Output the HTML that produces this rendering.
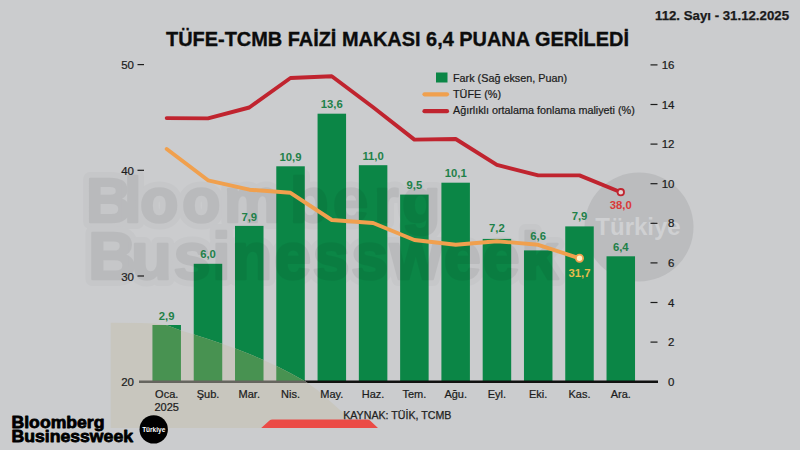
<!DOCTYPE html><html><head><meta charset="utf-8"><title>TÜFE-TCMB</title><style>
html,body{margin:0;padding:0;background:#cbccce;}body{width:800px;height:450px;overflow:hidden;}svg{display:block}text{font-family:"Liberation Sans",sans-serif;}.n text{stroke:#1c1c1c;stroke-width:0.22px}
</style></head><body>
<svg width="800" height="450" viewBox="0 0 800 450">
<rect width="800" height="450" fill="#cbccce"/>
<g font-weight="bold">
<g fill="#c6c7c9" stroke="#c6c7c9" stroke-width="14" stroke-linejoin="round"><text x="86 124 140 182 224 290 333 374 402" y="222" font-size="63">Bloomberg</text><text x="88 131 173.5 212.1 231.4 273.9 312.5 351.1 389.7 443.8 482.4 521" y="279" font-size="67">Businessweek</text></g>
</g>
<circle cx="639" cy="227" r="54.5" fill="#bbbcbe"/>
<text x="638" y="235" text-anchor="middle" font-size="24" font-weight="bold" fill="#cfd0d2">Türkiye</text>
<rect x="152.45" y="325.0" width="28.5" height="56.7" fill="#0b8646"/>
<rect x="193.73" y="263.8" width="28.5" height="117.9" fill="#0b8646"/>
<rect x="235.01" y="225.9" width="28.5" height="155.8" fill="#0b8646"/>
<rect x="276.29" y="166.3" width="28.5" height="215.4" fill="#0b8646"/>
<rect x="317.57" y="113.7" width="28.5" height="268.0" fill="#0b8646"/>
<rect x="358.85" y="165.2" width="28.5" height="216.5" fill="#0b8646"/>
<rect x="400.13" y="194.6" width="28.5" height="187.1" fill="#0b8646"/>
<rect x="441.41" y="182.7" width="28.5" height="199.0" fill="#0b8646"/>
<rect x="482.69" y="238.9" width="28.5" height="142.8" fill="#0b8646"/>
<rect x="523.97" y="250.4" width="28.5" height="131.3" fill="#0b8646"/>
<rect x="565.25" y="226.4" width="28.5" height="155.3" fill="#0b8646"/>
<rect x="606.53" y="256.3" width="28.5" height="125.4" fill="#0b8646"/>
<g font-weight="bold" opacity="0.058" fill="#000" stroke="#000" stroke-width="2.6" stroke-linejoin="round"><text x="86 124 140 182 224 290 333 374 402" y="222" font-size="63">Bloomberg</text><text x="88 131 173.5 212.1 231.4 273.9 312.5 351.1 389.7 443.8 482.4 521" y="279" font-size="67">Businessweek</text></g>
<line x1="139" y1="381.7" x2="658" y2="381.7" stroke="#111" stroke-width="2.4"/>
<clipPath id="ovc"><path d="M110.7,322.8 L140.0,322.9 L155.0,323.6 L167.0,325.3 L181.0,330.5 L194.0,334.5 L208.0,339.0 L222.0,343.8 L236.0,348.7 L250.0,354.2 L263.4,360.0 L277.0,366.3 L291.0,373.5 L305.5,381.6 L318.0,390.5 L331.0,402.0 L345.0,414.4 L352.0,420.5 L360.0,428.0 L110.7,428.0 Z"/></clipPath>
<path d="M110.7,322.8 L140.0,322.9 L155.0,323.6 L167.0,325.3 L181.0,330.5 L194.0,334.5 L208.0,339.0 L222.0,343.8 L236.0,348.7 L250.0,354.2 L263.4,360.0 L277.0,366.3 L291.0,373.5 L305.5,381.6 L318.0,390.5 L331.0,402.0 L345.0,414.4 L352.0,420.5 L360.0,428.0 L110.7,428.0 Z" fill="#c8c6be"/>
<g clip-path="url(#ovc)">
<rect x="152.45" y="325.0" width="28.5" height="56.7" fill="#489251"/>
<rect x="193.73" y="263.8" width="28.5" height="117.9" fill="#489251"/>
<rect x="235.01" y="225.9" width="28.5" height="155.8" fill="#489251"/>
<rect x="276.29" y="166.3" width="28.5" height="215.4" fill="#489251"/>
<line x1="139" y1="381.7" x2="320" y2="381.7" stroke="#66655f" stroke-width="2.4"/>
</g>
<path d="M261.2,428 L269.5,420.4 Q270.6,419.4 272.5,419.4 L367.5,419.4 Q369,419.4 370,420.4 L378,428 Z" fill="#eb4b46"/>
<text x="166.7" y="320.0" text-anchor="middle" font-size="11.3" font-weight="bold" fill="#1f8149">2,9</text>
<text x="208.0" y="258.0" text-anchor="middle" font-size="11.3" font-weight="bold" fill="#1f8149">6,0</text>
<text x="249.3" y="221.2" text-anchor="middle" font-size="11.3" font-weight="bold" fill="#1f8149">7,9</text>
<text x="290.5" y="160.9" text-anchor="middle" font-size="11.3" font-weight="bold" fill="#1f8149">10,9</text>
<text x="331.8" y="107.8" text-anchor="middle" font-size="11.3" font-weight="bold" fill="#1f8149">13,6</text>
<text x="373.1" y="160.3" text-anchor="middle" font-size="11.3" font-weight="bold" fill="#1f8149">11,0</text>
<text x="414.4" y="188.8" text-anchor="middle" font-size="11.3" font-weight="bold" fill="#1f8149">9,5</text>
<text x="455.7" y="176.8" text-anchor="middle" font-size="11.3" font-weight="bold" fill="#1f8149">10,1</text>
<text x="496.9" y="231.6" text-anchor="middle" font-size="11.3" font-weight="bold" fill="#1f8149">7,2</text>
<text x="538.2" y="240.1" text-anchor="middle" font-size="11.3" font-weight="bold" fill="#1f8149">6,6</text>
<text x="579.5" y="220.1" text-anchor="middle" font-size="11.3" font-weight="bold" fill="#1f8149">7,9</text>
<text x="620.8" y="250.6" text-anchor="middle" font-size="11.3" font-weight="bold" fill="#1f8149">6,4</text>
<g class="n">
<text x="166.7" y="398" text-anchor="middle" font-size="11" fill="#1c1c1c">Oca.</text>
<text x="208.0" y="398" text-anchor="middle" font-size="11" fill="#1c1c1c">Şub.</text>
<text x="249.3" y="398" text-anchor="middle" font-size="11" fill="#1c1c1c">Mar.</text>
<text x="290.5" y="398" text-anchor="middle" font-size="11" fill="#1c1c1c">Nis.</text>
<text x="331.8" y="398" text-anchor="middle" font-size="11" fill="#1c1c1c">May.</text>
<text x="373.1" y="398" text-anchor="middle" font-size="11" fill="#1c1c1c">Haz.</text>
<text x="414.4" y="398" text-anchor="middle" font-size="11" fill="#1c1c1c">Tem.</text>
<text x="455.7" y="398" text-anchor="middle" font-size="11" fill="#1c1c1c">Ağu.</text>
<text x="496.9" y="398" text-anchor="middle" font-size="11" fill="#1c1c1c">Eyl.</text>
<text x="538.2" y="398" text-anchor="middle" font-size="11" fill="#1c1c1c">Eki.</text>
<text x="579.5" y="398" text-anchor="middle" font-size="11" fill="#1c1c1c">Kas.</text>
<text x="620.8" y="398" text-anchor="middle" font-size="11" fill="#1c1c1c">Ara.</text>
<text x="166.7" y="410.8" text-anchor="middle" font-size="11" fill="#1c1c1c">2025</text>
<text x="134" y="69.2" text-anchor="end" font-size="11.5" fill="#1c1c1c">50</text>
<line x1="137.5" y1="64.6" x2="144" y2="64.6" stroke="#1c1c1c" stroke-width="1.2"/>
<text x="134" y="174.9" text-anchor="end" font-size="11.5" fill="#1c1c1c">40</text>
<line x1="137.5" y1="170.3" x2="144" y2="170.3" stroke="#1c1c1c" stroke-width="1.2"/>
<text x="134" y="280.6" text-anchor="end" font-size="11.5" fill="#1c1c1c">30</text>
<line x1="137.5" y1="276.0" x2="144" y2="276.0" stroke="#1c1c1c" stroke-width="1.2"/>
<text x="134" y="386.3" text-anchor="end" font-size="11.5" fill="#1c1c1c">20</text>
<text x="674.5" y="385.7" text-anchor="end" font-size="11.5" fill="#1c1c1c">0</text>
<text x="674.5" y="346.1" text-anchor="end" font-size="11.5" fill="#1c1c1c">2</text>
<line x1="650.5" y1="342.1" x2="657.5" y2="342.1" stroke="#1c1c1c" stroke-width="1.2"/>
<text x="674.5" y="306.5" text-anchor="end" font-size="11.5" fill="#1c1c1c">4</text>
<line x1="650.5" y1="302.5" x2="657.5" y2="302.5" stroke="#1c1c1c" stroke-width="1.2"/>
<text x="674.5" y="266.9" text-anchor="end" font-size="11.5" fill="#1c1c1c">6</text>
<line x1="650.5" y1="262.9" x2="657.5" y2="262.9" stroke="#1c1c1c" stroke-width="1.2"/>
<text x="674.5" y="227.3" text-anchor="end" font-size="11.5" fill="#1c1c1c">8</text>
<line x1="650.5" y1="223.3" x2="657.5" y2="223.3" stroke="#1c1c1c" stroke-width="1.2"/>
<text x="674.5" y="187.7" text-anchor="end" font-size="11.5" fill="#1c1c1c">10</text>
<line x1="650.5" y1="183.7" x2="657.5" y2="183.7" stroke="#1c1c1c" stroke-width="1.2"/>
<text x="674.5" y="148.1" text-anchor="end" font-size="11.5" fill="#1c1c1c">12</text>
<line x1="650.5" y1="144.1" x2="657.5" y2="144.1" stroke="#1c1c1c" stroke-width="1.2"/>
<text x="674.5" y="108.5" text-anchor="end" font-size="11.5" fill="#1c1c1c">14</text>
<line x1="650.5" y1="104.5" x2="657.5" y2="104.5" stroke="#1c1c1c" stroke-width="1.2"/>
<text x="674.5" y="68.9" text-anchor="end" font-size="11.5" fill="#1c1c1c">16</text>
<line x1="650.5" y1="64.9" x2="657.5" y2="64.9" stroke="#1c1c1c" stroke-width="1.2"/>
</g>
<polyline points="166.7,149.0 208.0,180.3 249.3,189.7 290.5,192.8 331.8,220.0 373.1,223.0 414.4,240.0 455.7,244.8 496.9,241.2 538.2,244.8 579.5,258.3" fill="none" stroke="#f0a04e" stroke-width="3.9" stroke-linejoin="round" stroke-linecap="round"/>
<polyline points="166.7,118.1 208.0,118.4 249.3,107.5 290.5,78.0 331.8,76.3 373.1,107.3 414.4,139.6 455.7,139.0 496.9,164.8 538.2,175.4 579.5,175.4 620.8,192.2" fill="none" stroke="#c0242f" stroke-width="3.9" stroke-linejoin="round" stroke-linecap="round"/>
<circle cx="579.5" cy="258.3" r="3.6" fill="#fdf3c8" stroke="#f0a04e" stroke-width="1.8"/>
<circle cx="620.8" cy="192.2" r="3.2" fill="#e3d3d3" stroke="#c0242f" stroke-width="1.8"/>
<text x="579.5" y="276.7" text-anchor="middle" font-size="11.3" font-weight="bold" fill="#e8bd4c">31,7</text>
<text x="620.8" y="208.9" text-anchor="middle" font-size="11.3" font-weight="bold" fill="#d93a3a">38,0</text>
<rect x="436" y="72.5" width="11.5" height="10" fill="#0b8646"/>
<line x1="424.5" y1="94.3" x2="447" y2="94.3" stroke="#f0a04e" stroke-width="4.2" stroke-linecap="round"/>
<line x1="424.5" y1="111.2" x2="447" y2="111.2" stroke="#c0242f" stroke-width="4.2" stroke-linecap="round"/>
<g class="n">
<text x="453" y="82.3" font-size="10.8" fill="#1c1c1c">Fark (Sağ eksen, Puan)</text>
<text x="453" y="98" font-size="10.8" fill="#1c1c1c">TÜFE (%)</text>
<text x="453" y="114.3" font-size="10.8" fill="#1c1c1c">Ağırlıklı ortalama fonlama maliyeti (%)</text>
</g>
<text x="166" y="46.3" font-size="20.5" font-weight="bold" fill="#0c0c0c" stroke="#0c0c0c" stroke-width="0.35" textLength="463" lengthAdjust="spacingAndGlyphs">TÜFE-TCMB FAİZİ MAKASI 6,4 PUANA GERİLEDİ</text>
<text x="655" y="20.3" font-size="12.6" font-weight="bold" fill="#1a1a1a" stroke="#1a1a1a" stroke-width="0.25" textLength="134" lengthAdjust="spacingAndGlyphs">112. Sayı - 31.12.2025</text>
<text x="343.2" y="419.1" font-size="10.4" fill="#222" stroke="#222" stroke-width="0.25" textLength="108.3" lengthAdjust="spacingAndGlyphs">KAYNAK: TÜİK, TCMB</text>
<g fill="#000" stroke="#000" stroke-width="0.8" stroke-linejoin="round" font-weight="bold" font-size="16.8">
<text x="11.5" y="428.2" textLength="93" lengthAdjust="spacingAndGlyphs">Bloomberg</text>
<text x="11.5" y="442" textLength="121.5" lengthAdjust="spacingAndGlyphs">Businessweek</text>
</g>
<circle cx="153.7" cy="429.4" r="14.2" fill="#000"/>
<text x="153.7" y="431.6" text-anchor="middle" font-size="6.5" font-weight="bold" fill="#fff">Türkiye</text>
</svg></body></html>
